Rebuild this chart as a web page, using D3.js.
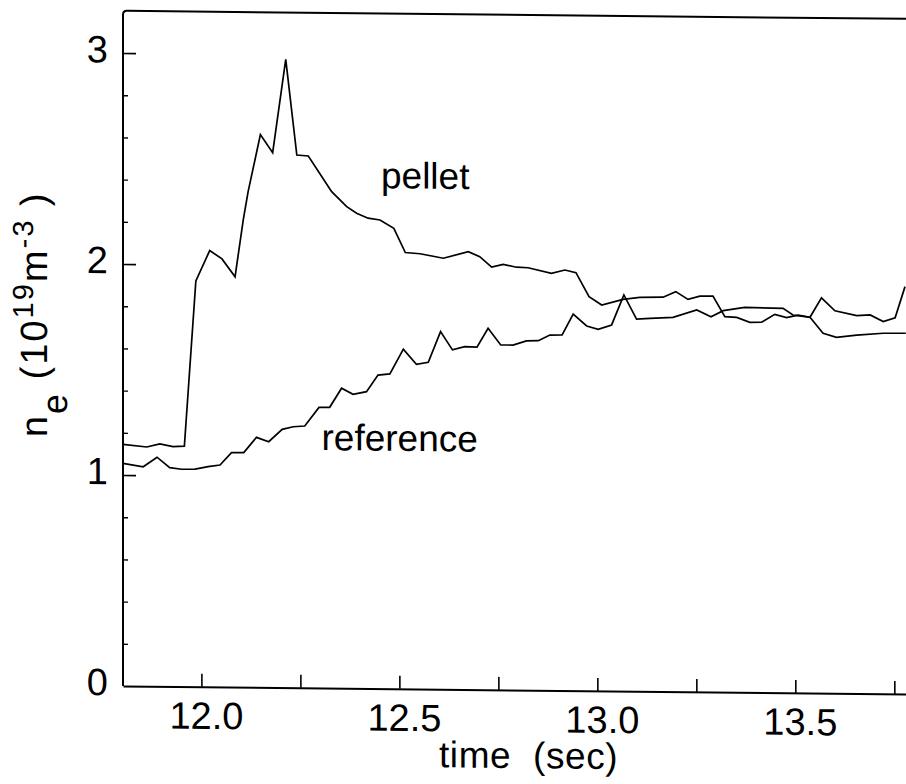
<!DOCTYPE html>
<html>
<head>
<meta charset="utf-8">
<script src="https://cdn.jsdelivr.net/npm/d3@7"></script>
<style>
  html, body { margin: 0; padding: 0; background: #fff; }
  svg { display: block; }
  text { font-family: "Liberation Sans", Arial, Helvetica, sans-serif; fill: #000; }
</style>
</head>
<body>
<svg id="chart" width="906" height="784"></svg>
<script>
// Line-averaged electron density, pellet-fuelled shot vs. reference shot
const pelletTime = [11.802, 11.862, 11.895, 11.928, 11.957, 11.986, 12.021, 12.052, 12.085, 12.106,
  12.118, 12.149, 12.180, 12.213, 12.241, 12.270, 12.329, 12.367, 12.392, 12.421,
  12.451, 12.486, 12.515, 12.552, 12.611, 12.674, 12.703, 12.733, 12.762, 12.796,
  12.825, 12.884, 12.918, 12.946, 12.979, 13.011, 13.065, 13.107, 13.166, 13.198,
  13.229, 13.259, 13.292, 13.322, 13.352, 13.385, 13.415, 13.448, 13.478, 13.507,
  13.537, 13.570, 13.604, 13.655, 13.722, 13.779];
const pelletDensity = [1.145, 1.134, 1.149, 1.137, 1.140, 1.923, 2.068, 2.029, 1.945, 2.219,
  2.349, 2.620, 2.535, 2.978, 2.525, 2.521, 2.353, 2.283, 2.252, 2.229,
  2.221, 2.182, 2.068, 2.063, 2.043, 2.075, 2.052, 2.003, 2.017, 2.004,
  2.002, 1.977, 1.993, 1.981, 1.868, 1.829, 1.857, 1.867, 1.869, 1.896,
  1.860, 1.876, 1.877, 1.780, 1.777, 1.754, 1.755, 1.793, 1.778, 1.791,
  1.781, 1.706, 1.687, 1.699, 1.709, 1.710];

const referenceTime = [11.802, 11.853, 11.888, 11.920, 11.950, 11.984, 12.017, 12.047, 12.076, 12.107,
  12.139, 12.170, 12.204, 12.232, 12.261, 12.297, 12.324, 12.354, 12.383, 12.417,
  12.446, 12.476, 12.510, 12.543, 12.573, 12.604, 12.634, 12.665, 12.696, 12.724,
  12.756, 12.787, 12.821, 12.851, 12.880, 12.911, 12.939, 12.973, 13.002, 13.036,
  13.067, 13.099, 13.133, 13.191, 13.251, 13.287, 13.318, 13.372, 13.469, 13.494,
  13.537, 13.566, 13.600, 13.655, 13.689, 13.722, 13.752, 13.777];
const referenceDensity = [1.055, 1.040, 1.086, 1.037, 1.030, 1.031, 1.044, 1.052, 1.111, 1.112,
  1.185, 1.165, 1.224, 1.237, 1.241, 1.330, 1.331, 1.422, 1.394, 1.407,
  1.486, 1.492, 1.610, 1.539, 1.549, 1.695, 1.609, 1.625, 1.623, 1.713,
  1.635, 1.635, 1.655, 1.657, 1.684, 1.685, 1.784, 1.729, 1.714, 1.735,
  1.878, 1.764, 1.768, 1.774, 1.810, 1.779, 1.808, 1.825, 1.822, 1.791,
  1.781, 1.874, 1.813, 1.791, 1.795, 1.764, 1.783, 1.931];

const xTickValues = [12.0, 12.25, 12.5, 12.75, 13.0, 13.25, 13.5, 13.75];
const xLabelValues = [12.0, 12.5, 13.0, 13.5];
const yMajorTicks = [0, 1, 2, 3];
const yMinorTicks = [0.2, 0.4, 0.6, 0.8, 1.2, 1.4, 1.6, 1.8, 2.2, 2.4, 2.6, 2.8];
const seriesLabels = ["pellet", "reference"];

const svg = d3.select("#chart");

const x = d3.scaleLinear().domain([11.802, 13.78]).range([123, 906.2]);
const y = d3.scaleLinear().domain([0, 3.2]).range([686, 10.8]);

const x0 = x.range()[0];
// whole drawing carries a slight shear, pivoting on the left axis
const root = svg.append("g")
  .attr("transform", `translate(${x0},0) skewY(0.59) translate(${-x0},0)`);

// frame: left axis rising into the top border
const yTop = y.range()[1];
root.append("path")
  .attr("d", `M${x0},${y(0)} L${x0},${yTop + 4} Q${x0},${yTop} ${x0 + 4},${yTop} L${x.range()[1]},${yTop}`)
  .attr("fill", "none").attr("stroke", "#000").attr("stroke-width", 2);

// bottom axis with inward ticks
const xAxis = root.append("g")
  .attr("transform", `translate(0,${y(0)})`)
  .call(d3.axisBottom(x).tickValues(xTickValues).tickSize(-13).tickSizeOuter(0).tickFormat(""));
xAxis.select(".domain").attr("stroke-width", 2);
xAxis.selectAll(".tick line").attr("stroke-width", 1.6);

// left axis: major and minor inward ticks
const yAxisMajor = root.append("g")
  .attr("transform", `translate(${x0},0)`)
  .call(d3.axisLeft(y).tickValues(yMajorTicks.filter(d => d > 0)).tickSize(-13).tickSizeOuter(0).tickFormat(""));
yAxisMajor.select(".domain").remove();
yAxisMajor.selectAll(".tick line").attr("stroke-width", 1.6);

const yAxisMinor = root.append("g")
  .attr("transform", `translate(${x0},0)`)
  .call(d3.axisLeft(y).tickValues(yMinorTicks).tickSize(-5).tickSizeOuter(0).tickFormat(""));
yAxisMinor.select(".domain").remove();
yAxisMinor.selectAll(".tick line").attr("stroke-width", 1.4);

// tick labels
root.append("g").selectAll("text")
  .data(xLabelValues).join("text")
  .attr("x", d => x(d) + 5)
  .attr("y", y(0) + 42)
  .attr("text-anchor", "middle")
  .attr("font-size", 38)
  .text(d3.format(".1f"));

root.append("g").selectAll("text")
  .data(yMajorTicks).join("text")
  .attr("x", x0 - 15)
  .attr("y", d => y(d) + 9.5)
  .attr("text-anchor", "end")
  .attr("font-size", 38)
  .text(d => d);

// axis titles
root.append("text")
  .attr("x", 439)
  .attr("y", 764)
  .attr("font-size", 37)
  .attr("letter-spacing", 0.6)
  .style("white-space", "pre")
  .text("time  (sec)");

const yTitle = root.append("text")
  .attr("transform", "translate(47,438) rotate(-90)")
  .attr("font-size", 38)
  .attr("letter-spacing", 2)
  .style("white-space", "pre");
yTitle.append("tspan").text("n");
yTitle.append("tspan").attr("dy", 20).attr("font-size", 36).text("e");
yTitle.append("tspan").attr("dy", -20).text(" (10");
yTitle.append("tspan").attr("dy", -14).attr("font-size", 29).text("19");
yTitle.append("tspan").attr("dy", 14).text("m");
yTitle.append("tspan").attr("dy", -14).attr("font-size", 29).text("-3");
yTitle.append("tspan").attr("dy", 14).text(" )");

// density traces
const line = d3.line().x(d => x(d[0])).y(d => y(d[1]));
const pellet = pelletTime.map((t, i) => [t, pelletDensity[i]]);
const reference = referenceTime.map((t, i) => [t, referenceDensity[i]]);

root.append("g").selectAll("path")
  .data([pellet, reference]).join("path")
  .attr("d", line)
  .attr("fill", "none")
  .attr("stroke", "#000")
  .attr("stroke-width", 1.7)
  .attr("stroke-linejoin", "miter");

// series labels
root.append("text").attr("x", 381).attr("y", 185.5).attr("font-size", 37).text(seriesLabels[0]);
root.append("text").attr("x", 321.5).attr("y", 448).attr("font-size", 37).text(seriesLabels[1]);
</script>
</body>
</html>
